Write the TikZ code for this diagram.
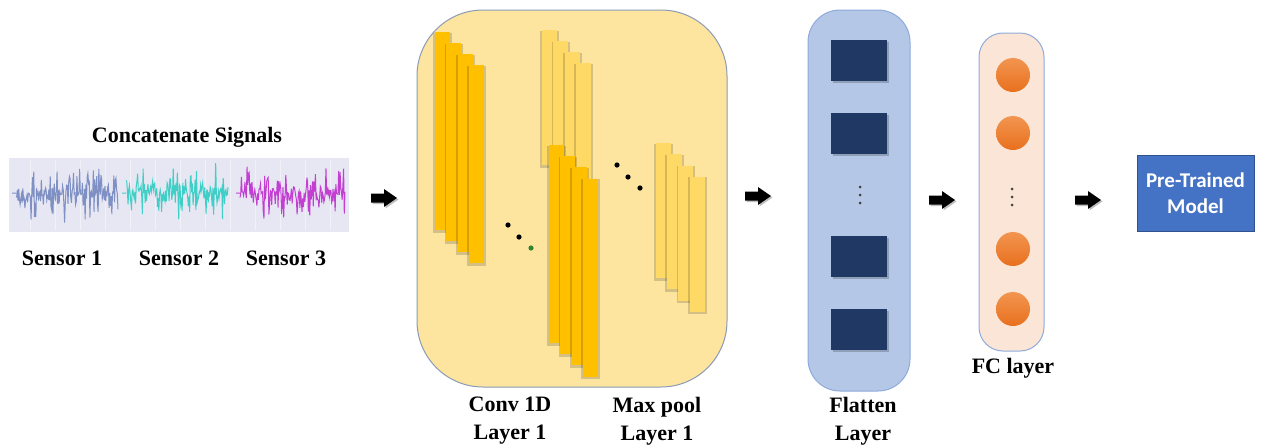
\documentclass[tikz,border=0pt]{standalone}
\usepackage{fontspec}
\setmainfont{Liberation Serif}
\newfontfamily\calibri{Carlito}
\definecolor{strip}{HTML}{E7E7F3}
\definecolor{sigA}{HTML}{7F90C4}
\definecolor{sigB}{HTML}{3FCFC6}
\definecolor{sigC}{HTML}{C23FD2}
\definecolor{convbox}{HTML}{FDE49F}
\definecolor{boxline}{HTML}{8A9BB5}
\definecolor{barDark}{HTML}{FFC000}
\definecolor{barLight}{HTML}{FFD966}
\definecolor{flatbox}{HTML}{B4C7E7}
\definecolor{flatline}{HTML}{8FAADC}
\definecolor{navy}{HTML}{203864}
\definecolor{fcbox}{HTML}{FBE5D6}
\definecolor{orangeT}{HTML}{F29550}
\definecolor{orangeB}{HTML}{E8701E}
\definecolor{ptfill}{HTML}{4472C4}
\definecolor{ptline}{HTML}{2F528F}
\begin{document}
\begin{tikzpicture}[x=0.5pt,y=-0.5pt,
  lbl/.style={font=\fontsize{11}{13}\selectfont\bfseries, align=center, inner sep=0},
  barD/.style={fill=barDark},
  barL/.style={fill=barLight},
  barshadow/.style={fill=black, opacity=0.16},
  sq/.style={fill=navy},
  neuron/.style={circle, minimum size=17pt, inner sep=0, top color=orangeT, bottom color=orangeB, draw=none},
  dotblk/.style={fill=black},
  arrowfill/.style={fill=black},
  arrowshadow/.style={fill=black, opacity=0.25}]
\useasboundingbox (0,0) rectangle (1286,446);

% ---------- signals ----------
\fill[strip] (9,158) rectangle (349,232);
\foreach \gx in {30,55,80,105,130,155,180,205,230,255,280,305,330}
  \draw[white, opacity=0.45, line width=0.25pt] (\gx,160) -- (\gx,230);
\pgfmathsetseed{11}
\draw[sigA, line width=0.5pt] (12,193) -- (16,193) plot[domain=16:118, samples=150] (\x,{193+33*rand*abs(rand)});
\draw[sigB, line width=0.5pt] (122,193) -- (126,193) plot[domain=126:228, samples=150] (\x,{193+31*rand*abs(rand)});
\draw[sigC, line width=0.5pt] (236,193) -- (240,193) plot[domain=240:345, samples=150] (\x,{193+30*rand*abs(rand)});
\node[lbl] (concat) at (187,137) {Concatenate Signals};
\node[lbl] (s1) at (62,258) {Sensor 1};
\node[lbl] (s2) at (179,258) {Sensor 2};
\node[lbl] (s3) at (286,258) {Sensor 3};

% ---------- block arrows ----------
\newcommand{\blockarrow}[2]{%
  \fill[arrowshadow] (#1+1.5,#2+1.5) ++(0,-4.5) -- ++(13,0) -- ++(0,-4.5) -- ++(13,9) -- ++(-13,9) -- ++(0,-4.5) -- ++(-13,0) -- cycle;
  \fill[arrowfill] (#1,#2) ++(0,-4.5) -- ++(13,0) -- ++(0,-4.5) -- ++(13,9) -- ++(-13,9) -- ++(0,-4.5) -- ++(-13,0) -- cycle;}
\blockarrow{371}{198}
\blockarrow{745}{196}
\blockarrow{929}{200}
\blockarrow{1075}{200}

% ---------- conv / max pool box ----------
\draw[boxline, fill=convbox, line width=0.5pt, rounded corners=33] (417,10) rectangle (727,387);
\newcommand{\featbar}[4]{% x y h style
  \fill[barshadow] (#1-1.8,#2+0.5) rectangle ++(18.8,#3+2);
  \fill[#4] (#1,#2) rectangle ++(15,#3);}
% max pool top group (behind)
\foreach \i in {0,1,2,3}{\featbar{542+11.3*\i}{30+11*\i}{135}{barL}}
% conv group 1
\foreach \i in {0,1,2,3}{\featbar{435+11.3*\i}{32+11*\i}{198}{barD}}
% conv group 2
\foreach \i in {0,1,2,3}{\featbar{549+11.3*\i}{145+11.2*\i}{198}{barD}}
% max pool group 2
\foreach \i in {0,1,2,3}{\featbar{656+11.2*\i}{143+11.3*\i}{135}{barL}}
% dots
\fill[dotblk] (508,225) circle (2.6);
\fill[dotblk] (519,237) circle (2.6);
\fill[green!40!black!80] (531,248) circle (2.6);
\fill[dotblk] (617,165) circle (2.6);
\fill[dotblk] (628,177) circle (2.6);
\fill[dotblk] (640,188) circle (2.6);
\node[lbl] (conv) at (510,421) {Conv 1D\\[1pt]Layer 1};
\node[lbl] (pool) at (657,421) {Max pool\\[1pt]Layer 1};

% ---------- flatten ----------
\draw[flatline, fill=flatbox, line width=0.5pt, rounded corners=16] (808,10) rectangle (910,391);
\foreach \yy in {40,113,236,309}{
  \fill[black, opacity=0.2] (832.5,\yy+1.5) rectangle ++(56,41);
  \fill[sq] (831,\yy) rectangle ++(56,41);}
\foreach \yy in {187,195,203} \fill[black!75] (860,\yy) circle (1.5);
\node[lbl] (flat) at (863,421) {Flatten\\[1pt]Layer};

% ---------- FC ----------
\draw[flatline, fill=fcbox, line width=0.5pt, rounded corners=12] (979,33) rectangle (1044,351);
\foreach \yy/\nm in {75/n1,133/n2,249/n3,309/n4}
  \node[neuron] (\nm) at (1013,\yy) {};
\foreach \yy in {189,197,205} \fill[black!75] (1012,\yy) circle (1.5);
\node[lbl] (fc) at (1013,368) {FC layer};

% ---------- pre-trained ----------
\node[draw=ptline, fill=ptfill, line width=0.5pt, minimum width=58.5pt, minimum height=38pt, inner sep=0,
      text=white, align=center, font=\calibri\bfseries\fontsize{10.5}{13}\selectfont] (pt) at (1195.5,193) {Pre-Trained\\Model};
\end{tikzpicture}
\end{document}
